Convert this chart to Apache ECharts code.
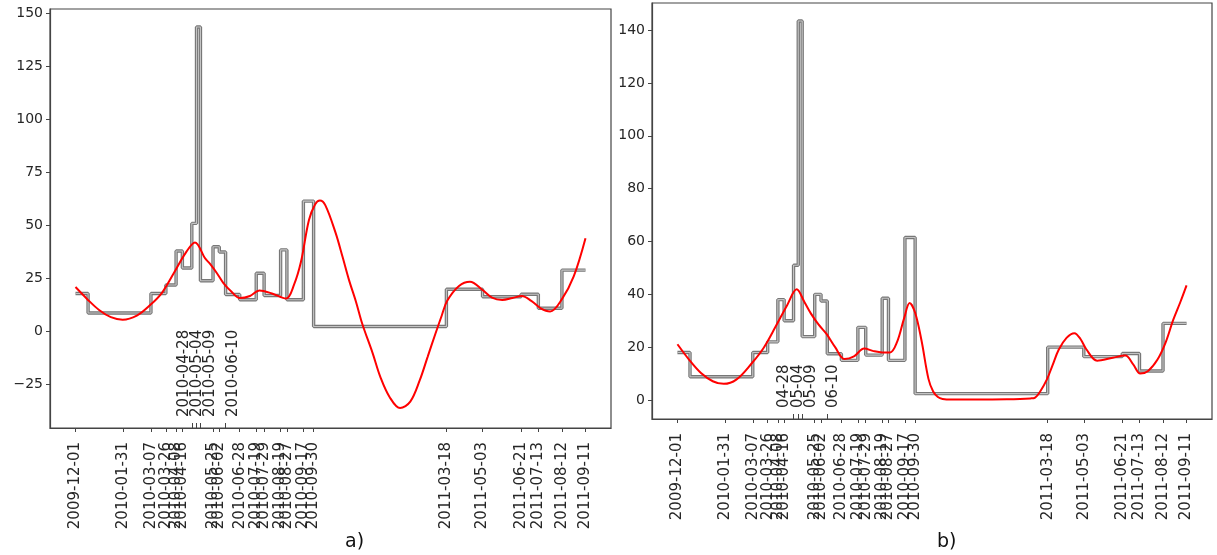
<!DOCTYPE html>
<html>
<head>
<meta charset="utf-8">
<script src="https://cdn.jsdelivr.net/npm/echarts@6/dist/echarts.min.js"></script>
<style>
  html, body { margin: 0; padding: 0; background: #fff; }
  #chart { width: 1217px; height: 555px; }
</style>
</head>
<body>
<div id="chart"></div>
<script>
// step series: value held from each date until the next one
var stepDates = ['2009-12-01','2009-12-17','2010-01-31','2010-03-07','2010-03-26','2010-04-08','2010-04-16',
    '2010-04-28','2010-05-04','2010-05-09','2010-05-25','2010-06-02','2010-06-10','2010-06-28','2010-07-19',
    '2010-07-29','2010-08-19','2010-08-27','2010-09-17','2010-09-30','2011-03-18','2011-05-03','2011-06-21',
    '2011-07-13','2011-08-12','2011-09-11'];
var stepValues = [18, 8.8, 8.8, 18, 22, 38, 30, 51, 143.5, 24, 40, 37.5, 17.5, 15, 27.5, 17, 38.5, 15, 61.5,
    2.4, 20, 16.4, 17.6, 11, 29, 29];

// dates labelled inside the plot (crowded ones)
var innerDates = ['2010-04-28','2010-05-04','2010-05-09','2010-06-10'];
var outerDates = stepDates.filter(function (d) { return innerDates.indexOf(d) < 0; });

// red curves, x = days since 2009-12-01
var curveDaysA = [0, 15, 30, 45, 60, 78, 95, 110, 125, 140, 152, 165, 171, 180, 188, 198, 209, 222, 234, 250,
    268, 278, 287, 297, 305, 311, 318, 331, 340, 348, 357, 365, 378, 388, 400, 413, 426, 438, 448, 458, 466,
    473, 488, 502, 518, 530, 543, 556, 568, 580, 592, 604, 619, 634, 649];
var curveValsA = [21, 15.3, 10.2, 6.8, 5.6, 7.5, 12.5, 18.3, 27.5, 37, 42, 34.5, 32, 27.5, 23, 19, 15.8, 16.8,
    19.4, 18, 15.6, 22, 33, 52.5, 60, 61.8, 59.5, 46.5, 35, 24.4, 14, 3.6, -10, -21.4, -31, -36, -33, -23, -12,
    -1, 7.5, 14.5, 21.5, 23.5, 19.6, 16, 14.9, 15.8, 16.8, 14.5, 11, 9.5, 15.3, 26, 44];

var curveDaysB = [0, 15, 30, 45, 59, 75, 95, 110, 125, 140, 152, 162, 170, 180, 190, 201, 213, 225, 238, 250,
    261, 271, 280, 289, 296, 303, 311, 320, 326, 332, 338, 350, 380, 420, 450, 456, 463, 471, 478, 486, 496,
    506, 514, 521, 535, 555, 571, 581, 590, 600, 612, 622, 632, 641, 649];
var curveValsB = [21.1, 15.2, 10.2, 7.1, 6.1, 7.7, 14, 19.8, 27.7, 36, 41.9, 37, 32.8, 28.5, 25, 20, 15.5, 16.5,
    19.5, 18.5, 18, 18, 22, 31, 36.7, 33, 22.7, 8, 3.2, 1.1, 0.4, 0.2, 0.2, 0.3, 0.6, 0.9, 3.5, 7.8, 13, 19,
    23.5, 25.3, 23, 19.3, 14.9, 16, 16.8, 13.5, 10, 11, 15.3, 21.5, 30.3, 37, 43.4];

var DAY = 86400000;
var base = Date.UTC(2009, 11, 1);
// x axis runs in days since 2009-12-01
function dayOf(s) { var p = s.split('-'); return Math.round((Date.UTC(+p[0], +p[1] - 1, +p[2]) - base) / DAY); }
function pad(n) { return n < 10 ? '0' + n : '' + n; }
function fmtFull(v) { var d = new Date(base + Math.round(v) * DAY); return d.getUTCFullYear() + '-' + pad(d.getUTCMonth() + 1) + '-' + pad(d.getUTCDate()); }
function fmtShort(v) { var d = new Date(base + Math.round(v) * DAY); return pad(d.getUTCMonth() + 1) + '-' + pad(d.getUTCDate()); }

var stepData = stepDates.map(function (d, i) { return [dayOf(d), stepValues[i]]; });
var curveA = curveDaysA.map(function (d, i) { return [d, curveValsA[i]]; });
var curveB = curveDaysB.map(function (d, i) { return [d, curveValsB[i]]; });

var font = 'DejaVu Sans';
var txt = '#262626';
var xMin = -32.45, xMax = 681.45;
var yRangeA = [-45.4, 152], yRangeB = [-7.2, 150.3];
// the crowded inner labels are spread sideways a little (px)
var nudgeA = [-8, 1, 10, 8], nudgeB = [-9, 0, 9, 6];

function outerX(grid) {
    return {
        type: 'value', gridIndex: grid, min: xMin, max: xMax, position: 'bottom',
        axisLine: { show: true, onZero: false, lineStyle: { color: '#444', width: 1.2 } },
        axisTick: { show: true, length: 4, lineStyle: { color: '#444' }, customValues: outerDates.map(dayOf) },
        axisLabel: { rotate: 90, margin: 14, fontSize: 15, fontFamily: font, color: txt,
            showMinLabel: true, showMaxLabel: true, hideOverlap: false,
            customValues: outerDates.map(dayOf), formatter: fmtFull },
        splitLine: { show: false }
    };
}
function innerX(grid) {
    return {
        type: 'value', gridIndex: grid, min: xMin, max: xMax, position: 'bottom',
        axisLine: { show: false, onZero: false },
        axisTick: { show: true, inside: true, length: 5, lineStyle: { color: '#444' }, customValues: innerDates.map(dayOf) },
        axisLabel: { show: false },
        splitLine: { show: false }
    };
}
function yAxis(grid, range, ticks) {
    return {
        type: 'value', gridIndex: grid, min: range[0], max: range[1],
        axisLine: { show: true, onZero: false, lineStyle: { color: '#444', width: 1.2 } },
        axisTick: { show: true, length: 4, lineStyle: { color: '#444' }, customValues: ticks },
        axisLabel: { fontSize: 14, fontFamily: font, color: txt, margin: 7, customValues: ticks,
            showMinLabel: true, showMaxLabel: true,
            formatter: function (v) { return String(v).replace('-', '\u2212'); } },
        splitLine: { show: false }
    };
}
function stepSeries(xi, yi) {
    return [
        { type: 'line', xAxisIndex: xi, yAxisIndex: yi, step: 'end', data: stepData, symbol: 'none',
          lineStyle: { color: '#777', width: 3.4 }, z: 2, silent: true },
        { type: 'line', xAxisIndex: xi, yAxisIndex: yi, step: 'end', data: stepData, symbol: 'none',
          lineStyle: { color: '#c4c4c4', width: 1.1 }, z: 3, silent: true }
    ];
}
function curveSeries(xi, yi, data) {
    return { type: 'line', xAxisIndex: xi, yAxisIndex: yi, data: data, symbol: 'none', smooth: 0.35,
        lineStyle: { color: '#ff0000', width: 2 }, z: 4, silent: true };
}
// inner date labels, anchored at the bottom of the plot above each date
// (label offset is in the rotated text frame: [along text, across text])
function innerLabels(xi, yi, yMin, fmt, nudge) {
    return {
        type: 'scatter', xAxisIndex: xi, yAxisIndex: yi, symbolSize: 0, clip: false, silent: true, z: 5,
        data: innerDates.map(function (d, i) {
            return { value: [dayOf(d), yMin], label: { offset: [11, nudge[i]] } };
        }),
        label: { show: true, position: 'inside', rotate: 90, align: 'left', verticalAlign: 'middle',
            fontSize: 15, fontFamily: font, color: txt, opacity: 1,
            formatter: function (p) { return fmt(p.value[0]); } }
    };
}

var chart = echarts.init(document.getElementById('chart'), null, { renderer: 'canvas' });
chart.setOption({
    animation: false,
    backgroundColor: '#fff',
    title: [
        { text: 'a)', left: 340, top: 528, textStyle: { fontSize: 19, fontWeight: 'normal', fontFamily: font, color: '#111' } },
        { text: 'b)', left: 932, top: 528, textStyle: { fontSize: 19, fontWeight: 'normal', fontFamily: font, color: '#111' } }
    ],
    grid: [
        { left: 50, top: 9, width: 561, height: 419, show: true, borderColor: '#444', borderWidth: 1.2, outerBoundsMode: 'none' },
        { left: 652, top: 3, width: 560, height: 416, show: true, borderColor: '#444', borderWidth: 1.2, outerBoundsMode: 'none' }
    ],
    xAxis: [outerX(0), innerX(0), outerX(1), innerX(1)],
    yAxis: [
        yAxis(0, yRangeA, [-25, 0, 25, 50, 75, 100, 125, 150]),
        yAxis(1, yRangeB, [0, 20, 40, 60, 80, 100, 120, 140])
    ],
    series: [].concat(
        stepSeries(0, 0), [curveSeries(0, 0, curveA), innerLabels(0, 0, yRangeA[0], fmtFull, nudgeA)],
        stepSeries(2, 1), [curveSeries(2, 1, curveB), innerLabels(2, 1, yRangeB[0], fmtShort, nudgeB)]
    )
});
</script>
</body>
</html>
